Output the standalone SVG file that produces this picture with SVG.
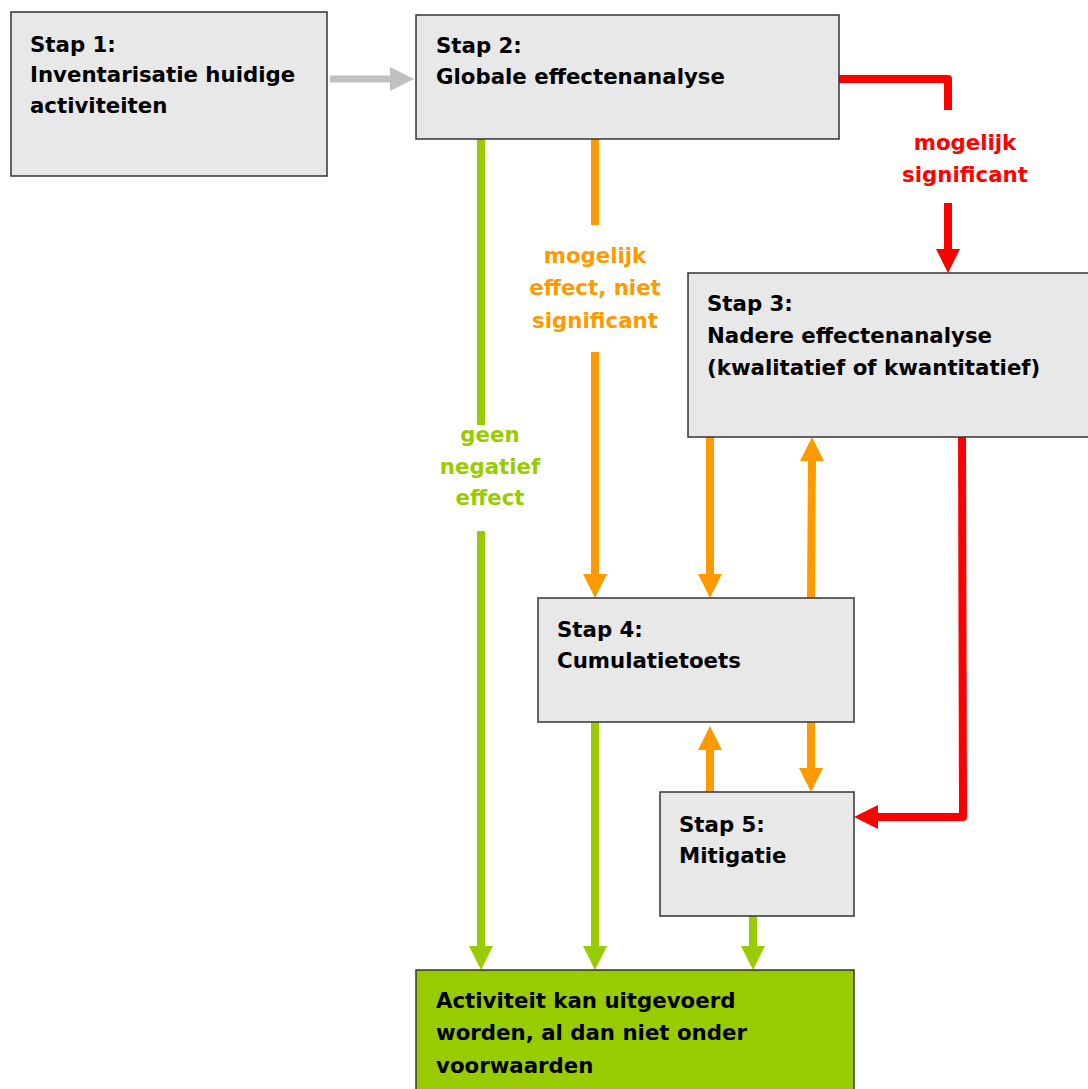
<svg xmlns="http://www.w3.org/2000/svg" width="1088" height="1089" viewBox="0 0 1088 1089">
<style>
.box{fill:#e8e8e8;stroke:#333;stroke-width:1.5}
.gbox{fill:#99cc00;stroke:#333;stroke-width:1.5}
text{font-family:"DejaVu Sans",Verdana,sans-serif;font-weight:bold;font-size:21.3px}
.t{fill:#000}
.lo{fill:#ff9900;text-anchor:middle}
.lr{fill:#ff0000;text-anchor:middle}
.lg{fill:#99cc00;text-anchor:middle}
.co{stroke:#ff9900;stroke-width:8;fill:none}
.cr{stroke:#ff0000;stroke-width:8;fill:none;stroke-linejoin:round}
.cg{stroke:#99cc00;stroke-width:8;fill:none}
.cy{stroke:#c0c0c0;stroke-width:7;fill:none}
</style>
<rect width="1088" height="1089" fill="#fff"/>
<g id="connectors">
<line class="cy" x1="330" y1="79" x2="392" y2="79"/>
<polygon fill="#c0c0c0" points="390,67 414,79 390,91"/>
<line class="cg" x1="481" y1="139" x2="481" y2="425"/>
<line class="cg" x1="481" y1="531" x2="481" y2="948"/>
<polygon fill="#99cc00" points="469,946 493,946 481,970"/>
<line class="co" x1="595" y1="139" x2="595" y2="225"/>
<line class="co" x1="595" y1="352" x2="595" y2="576"/>
<polygon fill="#ff9900" points="583,574 607,574 595,598"/>
<polyline class="cr" points="839,79 948,79 948,110"/>
<line class="cr" x1="948" y1="203" x2="948" y2="251"/>
<polygon fill="#ff0000" points="936,249 960,249 948,273"/>
<line class="co" x1="710" y1="437" x2="710" y2="576"/>
<polygon fill="#ff9900" points="698,574 722,574 710,598"/>
<line class="co" x1="811" y1="598" x2="812" y2="459"/>
<polygon fill="#ff9900" points="800,461 824,461 812,437"/>
<line class="co" x1="710" y1="792" x2="710" y2="748"/>
<polygon fill="#ff9900" points="698,750 722,750 710,726"/>
<line class="co" x1="811" y1="722" x2="811" y2="770"/>
<polygon fill="#ff9900" points="799,768 823,768 811,792"/>
<polyline class="cr" points="962,437 963,817 876,817"/>
<polygon fill="#ff0000" points="878,805 878,829 854,817"/>
<line class="cg" x1="595" y1="722" x2="595" y2="948"/>
<polygon fill="#99cc00" points="583,946 607,946 595,970"/>
<line class="cg" x1="753" y1="916" x2="753" y2="948"/>
<polygon fill="#99cc00" points="741,946 765,946 753,970"/>
<text class="lo" x="595" y="263">mogelijk</text>
<text class="lo" x="595" y="295">effect, niet</text>
<text class="lo" x="595" y="328">significant</text>
<text class="lg" x="490" y="442">geen</text>
<text class="lg" x="490" y="474">negatief</text>
<text class="lg" x="490" y="505">effect</text>
<text class="lr" x="965" y="150">mogelijk</text>
<text class="lr" x="965" y="182">significant</text>
</g>
<g id="stap1">
<rect class="box" x="11" y="12" width="316" height="164"/>
<text class="t" x="30" y="52">Stap 1:</text>
<text class="t" x="30" y="82">Inventarisatie huidige</text>
<text class="t" x="30" y="113">activiteiten</text>
</g>
<g id="stap2">
<rect class="box" x="416" y="15" width="423" height="124"/>
<text class="t" x="436" y="53">Stap 2:</text>
<text class="t" x="436" y="84">Globale effectenanalyse</text>
</g>
<g id="stap3">
<rect class="box" x="688" y="273" width="402" height="164"/>
<text class="t" x="707" y="311">Stap 3:</text>
<text class="t" x="707" y="343">Nadere effectenanalyse</text>
<text class="t" x="707" y="375">(kwalitatief of kwantitatief)</text>
</g>
<g id="stap4">
<rect class="box" x="538" y="598" width="316" height="124"/>
<text class="t" x="557" y="637">Stap 4:</text>
<text class="t" x="557" y="668">Cumulatietoets</text>
</g>
<g id="stap5">
<rect class="box" x="660" y="792" width="194" height="124"/>
<text class="t" x="679" y="832">Stap 5:</text>
<text class="t" x="679" y="863">Mitigatie</text>
</g>
<g id="resultaat">
<rect class="gbox" x="416" y="970" width="438" height="125"/>
<text class="t" x="436" y="1008">Activiteit kan uitgevoerd</text>
<text class="t" x="436" y="1040">worden, al dan niet onder</text>
<text class="t" x="436" y="1073">voorwaarden</text>
</g>
</svg>
